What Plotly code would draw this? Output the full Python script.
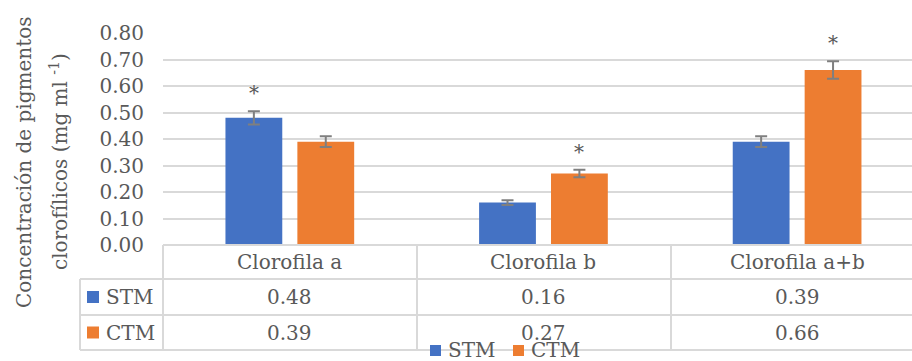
import plotly.graph_objects as go

# Chlorophyll pigment concentrations (mg ml-1) with and without treatment
categories = ["Clorofila a", "Clorofila b", "Clorofila a+b"]
series_names = ["STM", "CTM"]
stm_values = [0.48, 0.16, 0.39]
ctm_values = [0.39, 0.27, 0.66]
stm_errors = [0.025, 0.009, 0.020]
ctm_errors = [0.020, 0.014, 0.033]
# significance marks (True -> asterisk drawn above the bar)
stm_signif = [True, False, False]
ctm_signif = [False, True, True]
y_ticks = [0.0, 0.1, 0.2, 0.3, 0.4, 0.5, 0.6, 0.7, 0.8]

BLUE = "#4472C4"
ORANGE = "#ED7D31"
TEXT = "#595959"
GRID = "#D9D9D9"
FONT = "DejaVu Serif"
FS = 20

W, H = 912, 361
L, R, T, B = 163, 0, 33, 116          # plot-area margins in px
PW, PH = W - L - R, H - T - B
BARGAP, GROUPGAP = 0.433, 0.21


def px(x):   # pixel x -> paper x
    return (x - L) / PW


def py(y):   # pixel y -> paper y
    return (H - B - y) / PH


def tfont(size=FS):
    return dict(family=FONT, size=size, color=TEXT)


fig = go.Figure()
for name, vals, errs, col in [("STM", stm_values, stm_errors, BLUE),
                              ("CTM", ctm_values, ctm_errors, ORANGE)]:
    fig.add_trace(go.Bar(
        x=list(range(len(categories))), y=vals, name=name,
        marker=dict(color=col, line=dict(width=0)),
        error_y=dict(type="data", array=errs, visible=True,
                     color="#7F7F7F", thickness=2, width=6),
        showlegend=False,
    ))

annotations = []
shapes = []

# asterisks above significant bars
group_w = 1 - BARGAP
for vals, errs, sig, k in [(stm_values, stm_errors, stm_signif, 0),
                           (ctm_values, ctm_errors, ctm_signif, 1)]:
    for i, (v, e, s) in enumerate(zip(vals, errs, sig)):
        if s:
            xc = i - group_w / 2 + group_w / 4 + k * group_w / 2
            annotations.append(dict(
                x=xc, y=v + e, xref="x", yref="y", text="*",
                showarrow=False, yanchor="bottom", yshift=4,
                font=tfont(20)))

# y-axis title, two rotated lines
for xc, line in [(24, "Concentración de pigmentos"),
                 (59, "clorofílicos (mg ml <sup>-1</sup>)")]:
    annotations.append(dict(
        x=px(xc), y=py(162), xref="paper", yref="paper", text=line,
        textangle=-90, showarrow=False, xanchor="center", yanchor="middle",
        font=tfont(20)))

# data table below the axis
col_edges = [163, 417, 671]
row_top, row1, row2, row_bot = 245, 279, 315, 350
line_style = dict(color=GRID, width=2)


def hline(y, x0, x1):
    shapes.append(dict(type="line", xref="paper", yref="paper",
                       x0=px(x0), x1=px(x1), y0=py(y), y1=py(y),
                       line=line_style, layer="above"))


def vline(x, y0, y1):
    shapes.append(dict(type="line", xref="paper", yref="paper",
                       x0=px(x), x1=px(x), y0=py(y0), y1=py(y1),
                       line=line_style, layer="above"))


hline(row_top, 163, W)
hline(row1, 80, W)
hline(row2, 80, W)
hline(row_bot, 80, W)
vline(80, row1, row_bot)
for xe in col_edges:
    vline(xe, row_top, row_bot)

cat_w = (W - 163) / 2.953
for i, cat in enumerate(categories):
    xc = 163 + cat_w * (i + 0.5)
    annotations.append(dict(
        x=px(xc), y=py((row_top + row1) / 2), xref="paper", yref="paper",
        text=cat, showarrow=False, xanchor="center", yanchor="middle",
        font=tfont()))
    for yc, vals in [((row1 + row2) / 2, stm_values),
                     ((row2 + row_bot) / 2, ctm_values)]:
        annotations.append(dict(
            x=px(xc), y=py(yc), xref="paper", yref="paper",
            text=f"{vals[i]:.2f}", showarrow=False,
            xanchor="center", yanchor="middle",
            font=tfont()))

# legend keys inside the table
for yc, name, col in [((row1 + row2) / 2, series_names[0], BLUE),
                      ((row2 + row_bot) / 2, series_names[1], ORANGE)]:
    shapes.append(dict(type="rect", xref="paper", yref="paper",
                       x0=px(87), x1=px(99), y0=py(yc - 6), y1=py(yc + 6),
                       fillcolor=col, line=dict(width=0), layer="above"))
    annotations.append(dict(
        x=px(104), y=py(yc), xref="paper", yref="paper", text=name,
        showarrow=False, xanchor="left", yanchor="middle",
        font=tfont()))

# bottom legend
for x0, name, col in [(430, series_names[0], BLUE),
                      (513, series_names[1], ORANGE)]:
    shapes.append(dict(type="rect", xref="paper", yref="paper",
                       x0=px(x0), x1=px(x0 + 11), y0=py(345), y1=py(356),
                       fillcolor=col, line=dict(width=0), layer="above"))
    annotations.append(dict(
        x=px(x0 + 16), y=py(350), xref="paper", yref="paper", text=name,
        showarrow=False, xanchor="left", yanchor="middle",
        font=tfont()))

fig.update_layout(
    width=W, height=H,
    margin=dict(l=L, r=R, t=T, b=B, pad=0),
    paper_bgcolor="white", plot_bgcolor="white",
    barmode="group", bargap=BARGAP, bargroupgap=GROUPGAP,
    font=tfont(),
    xaxis=dict(range=[-0.5, 2.453], showticklabels=False, showgrid=False,
               zeroline=False, showline=False, ticks=""),
    yaxis=dict(range=[0, 0.8], tickvals=y_ticks, tickformat=".2f",
               showgrid=True, gridcolor=GRID, gridwidth=2,
               zeroline=False, showline=False, ticks="",
               ticklabelstandoff=18,
               tickfont=tfont()),
    annotations=annotations, shapes=shapes,
)

fig.write_html("out.html")
